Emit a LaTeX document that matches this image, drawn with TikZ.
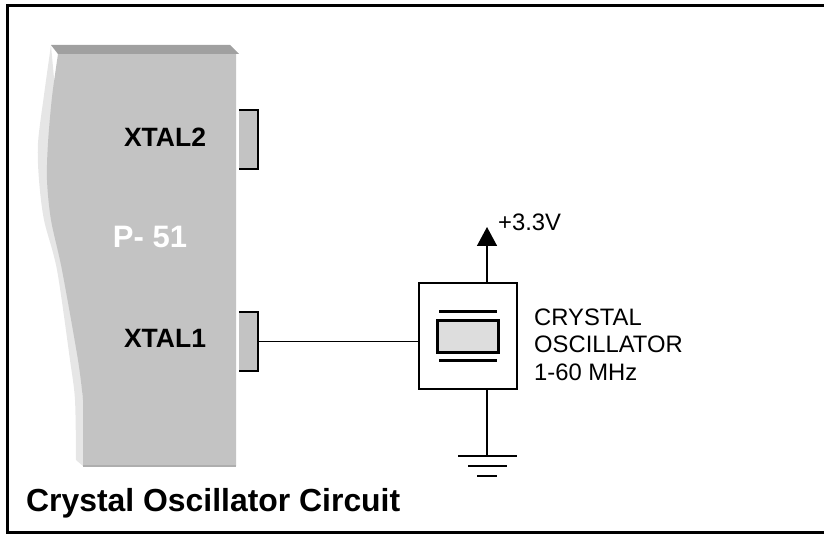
\documentclass[tikz,border=0pt]{standalone}
\usepackage{fontspec}
\setmainfont{Liberation Sans}
\usetikzlibrary{arrows.meta}
\definecolor{chipgray}{RGB}{195,195,195}
\definecolor{chiptop}{RGB}{160,160,160}
\definecolor{chipside}{RGB}{230,230,230}
\definecolor{quartzgray}{RGB}{221,221,221}
\tikzset{
  pinbox/.style={fill=chipgray, minimum width=19pt, minimum height=59pt, inner sep=0pt},
  pinlabel/.style={font=\fontsize{26.5}{26.5}\selectfont\bfseries, inner sep=0pt},
  plate/.style={line width=3pt},
  wire/.style={line width=1.5pt},
}
\begin{document}
\begin{tikzpicture}[x=1pt, y=-1pt, >=stealth]
  \useasboundingbox (0, 0) rectangle (824, 534);

  % Outer frame, open on the right
  \draw[line width=3.5pt] (824, 5.5) -- (7.3, 5.5) -- (7.3, 532.6) -- (824, 532.6);

  % Chip body
  \fill[chipside] (58, 54) -- (51, 45)
    plot[smooth] coordinates {(51, 45) (44, 95) (38, 143) (39, 180) (44, 220) (57, 270) (70, 360) (75, 400) (76, 460)}
    -- (83, 466) -- (83, 400) -- cycle;
  \fill[chipgray]
    plot[smooth] coordinates {(58, 54) (52, 97) (48, 143) (47, 180) (51, 220) (62, 270) (78, 360) (83, 400)}
    -- (83, 466) -- (236, 466) -- (236, 54) -- cycle;
  \fill[chiptop] (51, 45) -- (230, 45) -- (239, 54) -- (58, 54) -- cycle;
  \fill[chiptop!60!chipgray] (83, 464.5) rectangle (236, 466.5);

  % Pins
  \node (xtaltwo) [pinbox] at (248.5, 139.5) {};
  \node (xtalone) [pinbox] at (248.5, 341.5) {};
  \draw[wire] (xtaltwo.north west) -- (xtaltwo.north east) -- (xtaltwo.south east) -- (xtaltwo.south west);
  \draw[wire] (xtalone.north west) -- (xtalone.north east) -- (xtalone.south east) -- (xtalone.south west);

  % Chip labels
  \node (labeltwo) [pinlabel] at (165, 137) {XTAL2};
  \node (labelone) [pinlabel] at (165, 338) {XTAL1};
  \node (chipname) [pinlabel, text=white, font=\fontsize{31}{31}\selectfont\bfseries] at (150, 236.5) {P- 51};

  % Crystal oscillator
  \node (osc) [draw, line width=1.5pt, minimum width=98pt, minimum height=106pt, inner sep=0pt] at (468, 336) {};
  \node (quartz) [draw, line width=3pt, fill=quartzgray, minimum width=61pt, minimum height=32pt, inner sep=0pt] at (468, 336.5) {};
  \coordinate (platetopa) at (439, 312);
  \coordinate (platetopb) at (497, 312);
  \coordinate (platebota) at (439, 360);
  \coordinate (platebotb) at (497, 360);
  \draw[plate] (platetopa) -- (platetopb);
  \draw[plate] (platebota) -- (platebotb);

  % Connect the pin, supply and ground
  \draw[wire] (xtalone.east) -- (xtalone.east -| osc.west);
  \coordinate (supply) at (487, 227);
  \coordinate (gnd) at (487, 456);
  \draw[wire, -{Triangle[width=20pt, length=19pt]}] (supply |- osc.north) -- (supply);
  \draw[wire] (gnd |- osc.south) -- (gnd);
  \draw[wire] (458, 456) -- (517, 456);
  \draw[wire] (468, 466) -- (507, 466);
  \draw[wire] (477, 476) -- (497, 476);

  % Texts
  \node (supplylabel) [anchor=west, inner sep=0pt, font=\fontsize{23.8}{23.8}\selectfont] at (498, 222) {+3.3V};
  \node (osclabel) [anchor=west, align=left, inner sep=0pt, font=\fontsize{23.8}{27.5}\selectfont] at (534, 344.5)
    {CRYSTAL\\OSCILLATOR\\1-60 MHz};
  \node (title) [anchor=west, inner sep=0pt, font=\fontsize{31.9}{31.9}\selectfont\bfseries] at (26, 503.5)
    {Crystal Oscillator Circuit};
\end{tikzpicture}
\end{document}
